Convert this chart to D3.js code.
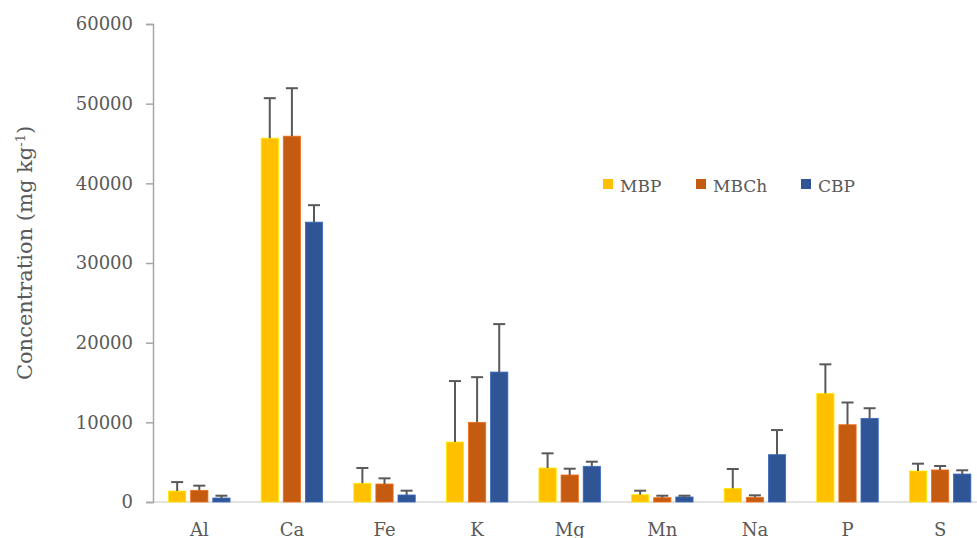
<!DOCTYPE html>
<html><head><meta charset="utf-8">
<script src="https://cdn.jsdelivr.net/npm/d3@7/dist/d3.min.js"></script>
<style>body{margin:0;background:#fff}svg{display:block}text{font-family:"DejaVu Serif",serif;fill:#595959}</style>
</head><body><svg id="c" width="977" height="538"></svg>
<script>
const categories = ["Al","Ca","Fe","K","Mg","Mn","Na","P","S"];
const seriesNames = ["MBP","MBCh","CBP"];
const MBP = [1380,45670,2350,7530,4270,920,1710,13640,3890];
const MBCh = [1470,45920,2260,10000,3390,540,590,9700,4020];
const CBP = [500,35130,880,16310,4480,630,5940,10500,3510];
const MBP_err = [1120,5020,1920,7650,1840,500,2430,3640,920];
const MBCh_err = [580,6020,710,5670,790,250,250,2790,500];
const CBP_err = [290,2130,540,6020,580,160,3090,1270,470];
const yTicks = [0,10000,20000,30000,40000,50000,60000];
const colors = ["#FFC000","#C55A11","#2F5597"];

const svg = d3.select("#c");
const x0 = 153, bandW = 92.6;
const x = d3.scaleBand().domain(categories).range([x0, x0 + bandW*categories.length]).paddingInner(0).paddingOuter(0);
const xs = d3.scaleBand().domain(seriesNames).range([0, 61.5]).paddingInner(0.22).paddingOuter(0);
const y = d3.scaleLinear().domain([0,60000]).range([502,24]);

// bottom axis line
svg.append("line").attr("x1",x0).attr("x2",977).attr("y1",y(0)).attr("y2",y(0)).attr("stroke","#d9d9d9").attr("stroke-width",1.5);

// y axis
const ya = svg.append("g").attr("transform",`translate(${x0},0)`).call(d3.axisLeft(y).tickValues(yTicks).tickFormat(d3.format("d")).tickSize(7).tickPadding(13));
ya.select(".domain").attr("stroke","#a6a6a6").attr("stroke-width",1.5);
ya.selectAll(".tick line").attr("stroke","#a6a6a6").attr("stroke-width",1.5);
ya.selectAll("text").style("font-size","18px").style("font-family","DejaVu Serif").attr("fill","#595959");

// x labels
svg.append("g").selectAll("text").data(categories).join("text")
  .attr("x", d => x(d) + x.bandwidth()/2).attr("y", 535.5)
  .attr("text-anchor","middle").style("font-size","18px").text(d => d);

const series = [MBP, MBCh, CBP];
const errs = [MBP_err, MBCh_err, CBP_err];
const groupOff = (x.bandwidth() - 61.5)/2;
series.forEach((vals, si) => {
  const g = svg.append("g");
  g.selectAll("rect").data(vals).join("rect")
    .attr("x", (d,i) => x(categories[i]) + groupOff + xs(seriesNames[si]))
    .attr("width", xs.bandwidth())
    .attr("y", d => y(d)).attr("height", d => y(0) - y(d))
    .attr("fill", colors[si]).attr("stroke", d3.color(colors[si]).brighter(0.6)).attr("stroke-width",0.8);
});
series.forEach((vals, si) => {
  const g = svg.append("g").attr("stroke","#595959").attr("stroke-width",2);
  vals.forEach((v,i) => {
    const cx = x(categories[i]) + groupOff + xs(seriesNames[si]) + xs.bandwidth()/2;
    const top = y(v + errs[si][i]);
    g.append("line").attr("x1",cx).attr("x2",cx).attr("y1",y(v)).attr("y2",top);
    g.append("line").attr("x1",cx-6).attr("x2",cx+6).attr("y1",top).attr("y2",top);
  });
});

// y title
svg.append("text").attr("transform","translate(32,253) rotate(-90)").attr("text-anchor","middle").style("font-size","21px")
  .html('Concentration (mg kg<tspan dy="-7" style="font-size:13px">-1</tspan><tspan dy="7">)</tspan>');

// legend
const legX = [603, 696, 801];
seriesNames.forEach((n,i) => {
  svg.append("rect").attr("x",legX[i]).attr("y",179).attr("width",10).attr("height",10).attr("fill",colors[i]);
  svg.append("text").attr("x",legX[i]+17).attr("y",191.5).style("font-size","17px").text(n);
});
</script></body></html>
